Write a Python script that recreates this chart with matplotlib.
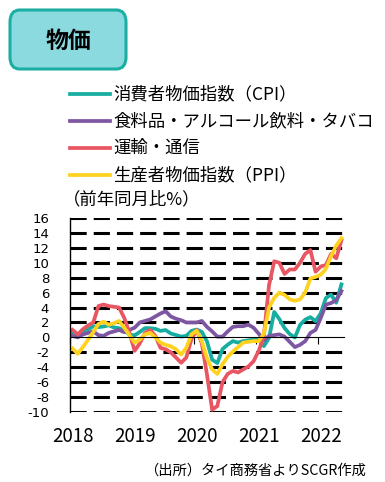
import numpy as np
import matplotlib
matplotlib.use('Agg')
import matplotlib.pyplot as plt
from matplotlib.lines import Line2D
from matplotlib.patches import FancyBboxPatch

plt.rcParams['font.family'] = ['Noto Sans CJK JP', 'DejaVu Sans']

# 月次データ 2018年1月〜2022年5月（前年同月比%）
years = ['2018', '2019', '2020', '2021', '2022']

cpi = [0.68, 0.42, 0.84, 1.07, 1.49, 1.38, 1.46, 1.62, 1.33, 1.23, 0.94, 0.36,
       0.27, 0.73, 1.24, 1.23, 1.15, 0.87, 0.98, 0.52, 0.32, 0.11, 0.21, 0.87,
       1.05, 0.74, -0.54, -2.99, -3.44, -1.57, -0.98, -0.50, -0.70, -0.50, -0.41, -0.27,
       -0.34, -1.17, -0.08, 3.41, 2.44, 1.25, 0.45, -0.02, 1.68, 2.38, 2.71, 2.17,
       3.23, 5.28, 5.73, 4.65, 7.10]

food = [0.2, 0.0, 0.4, 0.6, 0.8, 0.3, 0.2, 0.6, 0.8, 1.0, 0.7, 1.0,
        1.3, 2.0, 2.2, 2.4, 2.8, 3.2, 3.5, 2.8, 2.5, 2.3, 2.0, 2.0,
        2.0, 2.2, 1.4, 0.8, 0.1, 0.1, 0.8, 1.4, 1.5, 1.5, 1.7, 1.3,
        0.5, -0.4, 0.2, 0.3, 0.4, 0.1, -0.6, -1.3, -1.0, -0.5, 0.6, 1.0,
        2.6, 4.4, 4.6, 5.0, 6.2]

transport = [1.0, 0.4, 1.1, 1.6, 2.0, 4.2, 4.4, 4.2, 4.1, 4.0, 2.6, 0.6,
             -1.8, -0.8, 0.6, 1.0, 0.2, -1.4, -1.6, -2.0, -2.7, -3.4, -2.7, -0.2,
             1.0, -0.8, -5.0, -9.7, -9.2, -6.0, -4.9, -4.5, -4.7, -4.3, -3.9, -3.2,
             -1.8, 0.2, 7.0, 10.2, 10.0, 8.5, 9.1, 9.1, 10.0, 11.2, 11.7, 8.8,
             9.5, 9.7, 11.2, 10.6, 13.0]

ppi = [-1.5, -2.2, -1.3, -0.3, 0.7, 1.8, 2.1, 1.7, 1.9, 2.2, 1.3, 0.3,
       -0.7, -0.3, 0.4, 0.6, 0.0, -0.7, -1.0, -1.2, -1.6, -2.3, -1.4, 0.4,
       0.9, -0.5, -2.8, -4.3, -4.9, -3.6, -2.6, -1.9, -1.3, -0.7, -0.6, -0.5,
       -0.5, 0.5, 4.0, 5.3, 6.0, 5.7, 5.1, 4.9, 5.1, 6.0, 7.9, 8.1,
       8.4, 9.2, 10.9, 12.3, 13.3]

series = [
    ('消費者物価指数（CPI）', cpi, '#17ADA1'),
    ('食料品・アルコール飲料・タバコ', food, '#7E57A3'),
    ('運輸・通信', transport, '#E75662'),
    ('生産者物価指数（PPI）', ppi, '#FFD21F'),
]

W, H = 385, 482
fig = plt.figure(figsize=(W / 100, H / 100), dpi=100)

# タイトルボックス
box = FancyBboxPatch((10 / W, 1 - 69 / H), 116 / W, 59 / H,
                     boxstyle='round,pad=0,rounding_size=0.025',
                     transform=fig.transFigure, facecolor='#8BDADF',
                     edgecolor='#1AAFA2', linewidth=2.2)
fig.add_artist(box)
fig.text(68 / W, 1 - 41 / H, '物価', ha='center', va='center',
         fontsize=16.5, fontweight='bold')

# グラフ
ax = fig.add_axes([70 / W, 1 - 412 / H, 274 / W, 194 / H])
n = len(cpi)
x = np.arange(n) + 0.5
for label, vals, color in series:
    ax.plot(x, vals, color=color, lw=2.7, solid_joinstyle='round')

ax.set_xlim(0, n)
ax.set_ylim(-10, 16)
yt = np.arange(-10, 17, 2)
ax.set_yticks(yt)
ax.set_yticklabels([str(v) for v in yt], fontsize=9.5, family='DejaVu Sans')
ax.tick_params(axis='y', length=0, pad=15)

ax.grid(axis='y', color='black', lw=2.2, linestyle=(0, (5.3, 2.3)))
ax.set_axisbelow(True)
for v, tick in zip(ax.get_yticks(), ax.yaxis.get_major_ticks()):
    if v == 0:
        tick.gridline.set_visible(False)

for s in ['top', 'right']:
    ax.spines[s].set_visible(False)
ax.spines['left'].set_linewidth(1.0)
ax.spines['bottom'].set_position(('data', 0))
ax.spines['bottom'].set_linewidth(0.8)

jan = np.arange(0, n, 12)
ax.set_xticks(jan)
ax.set_xticklabels([])
ax.tick_params(axis='x', direction='out', length=5, width=0.8)

sec = ax.secondary_xaxis('bottom')
sec.spines['bottom'].set_visible(False)
sec.set_xticks(jan + 0.5)
sec.set_xticklabels(years, fontsize=13.5)
sec.tick_params(length=0, pad=10)

# 凡例
for k, (label, vals, color) in enumerate(series):
    yy = 1 - (94 + 27 * k) / H
    fig.add_artist(Line2D([70 / W, 110 / W], [yy, yy], color=color, lw=2.7,
                          transform=fig.transFigure))
    fig.text(113 / W, yy, label, ha='left', va='center', fontsize=12.5)
fig.text(63 / W, 1 - 199 / H, '（前年同月比%）', ha='left', va='center', fontsize=12.5)

fig.text(366 / W, 1 - 471 / H, '（出所）タイ商務省よりSCGR作成', ha='right', va='center',
         fontsize=10.3)

fig.savefig('out.png', dpi=100)
